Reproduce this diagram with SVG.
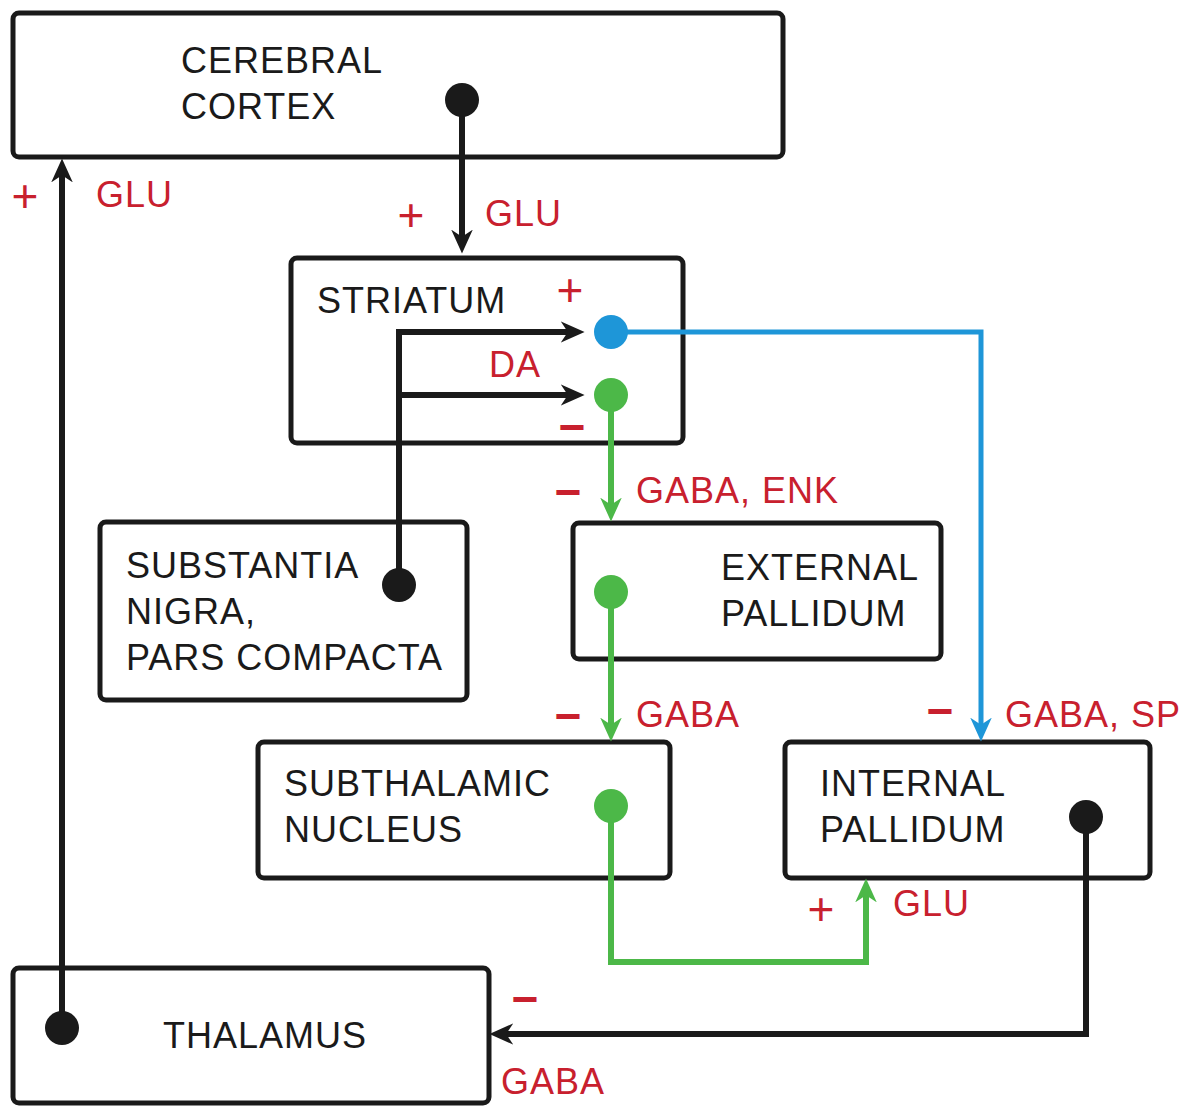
<svg xmlns="http://www.w3.org/2000/svg" width="1181" height="1106" viewBox="0 0 1181 1106">
  <style>
    .box { fill: #ffffff; stroke: #1a1a1a; stroke-width: 5; }
    .name { font-family: "Liberation Sans", Arial, sans-serif; font-size: 36px; letter-spacing: 1px; fill: #1a1a1a; }
    .lbl { font-family: "Liberation Sans", Arial, sans-serif; font-size: 36px; letter-spacing: 1px; fill: #c8202e; }
    .sign { font-family: "Liberation Sans", Arial, sans-serif; font-size: 46px; fill: #c8202e; text-anchor: middle; }
    .minus { font-weight: bold; }
    .k { fill: none; stroke: #1a1a1a; stroke-width: 6; }
    .g { fill: none; stroke: #4cb848; stroke-width: 6; }
    .b { fill: none; stroke: #1e96d8; stroke-width: 5; }
  </style>
  <defs>
    <marker id="ak" viewBox="0 0 20 20" refX="12" refY="10" markerWidth="24" markerHeight="24" markerUnits="userSpaceOnUse" orient="auto">
      <path d="M0,1 L20,10 L0,19 L6,10 z" fill="#1a1a1a"/>
    </marker>
    <marker id="ag" viewBox="0 0 20 20" refX="12" refY="10" markerWidth="24" markerHeight="24" markerUnits="userSpaceOnUse" orient="auto">
      <path d="M0,1 L20,10 L0,19 L6,10 z" fill="#4cb848"/>
    </marker>
    <marker id="ab" viewBox="0 0 20 20" refX="12" refY="10" markerWidth="24" markerHeight="24" markerUnits="userSpaceOnUse" orient="auto">
      <path d="M0,1 L20,10 L0,19 L6,10 z" fill="#1e96d8"/>
    </marker>
  </defs>

  <!-- nodes -->
  <g id="cortex">
    <rect class="box" x="13" y="13" width="770" height="144" rx="6"/>
    <text class="name" x="181" y="73">CEREBRAL</text>
    <text class="name" x="181" y="119">CORTEX</text>
  </g>
  <g id="striatum">
    <rect class="box" x="291" y="258" width="392" height="185" rx="6"/>
    <text class="name" x="317" y="313">STRIATUM</text>
  </g>
  <g id="substantia-nigra">
    <rect class="box" x="100" y="522" width="367" height="178" rx="6"/>
    <text class="name" x="126" y="578">SUBSTANTIA</text>
    <text class="name" x="126" y="624">NIGRA,</text>
    <text class="name" x="126" y="670">PARS COMPACTA</text>
  </g>
  <g id="external-pallidum">
    <rect class="box" x="573" y="523" width="368" height="136" rx="6"/>
    <text class="name" x="721" y="580">EXTERNAL</text>
    <text class="name" x="721" y="626">PALLIDUM</text>
  </g>
  <g id="subthalamic-nucleus">
    <rect class="box" x="258" y="742" width="412" height="136" rx="6"/>
    <text class="name" x="284" y="796">SUBTHALAMIC</text>
    <text class="name" x="284" y="842">NUCLEUS</text>
  </g>
  <g id="internal-pallidum">
    <rect class="box" x="785" y="742" width="365" height="136" rx="6"/>
    <text class="name" x="820" y="796">INTERNAL</text>
    <text class="name" x="820" y="842">PALLIDUM</text>
  </g>
  <g id="thalamus">
    <rect class="box" x="13" y="968" width="476" height="135" rx="6"/>
    <text class="name" x="163" y="1048">THALAMUS</text>
  </g>

  <!-- connectors -->
  <g id="connectors">
    <!-- cortex to striatum -->
    <path class="k" d="M462,100 V244" marker-end="url(#ak)"/>
    <circle cx="462" cy="100" r="17" fill="#1a1a1a"/>
    <!-- thalamus to cortex -->
    <path class="k" d="M62,1028 V168" marker-end="url(#ak)"/>
    <circle cx="62" cy="1028" r="17" fill="#1a1a1a"/>
    <!-- dopamine from substantia nigra -->
    <path class="k" d="M399,585 V332 H575" marker-end="url(#ak)"/>
    <path class="k" d="M399,395 H575" marker-end="url(#ak)"/>
    <circle cx="399" cy="585" r="17" fill="#1a1a1a"/>
    <!-- striatum direct pathway -->
    <path class="b" d="M611,332 H981 V732" marker-end="url(#ab)"/>
    <circle cx="611" cy="332" r="17" fill="#1e96d8"/>
    <!-- striatum indirect pathway -->
    <path class="g" d="M611,395 V512" marker-end="url(#ag)"/>
    <circle cx="611" cy="395" r="17" fill="#4cb848"/>
    <!-- external pallidum to subthalamic nucleus -->
    <path class="g" d="M611,592 V732" marker-end="url(#ag)"/>
    <circle cx="611" cy="592" r="17" fill="#4cb848"/>
    <!-- subthalamic nucleus to internal pallidum -->
    <path class="g" d="M611,806 V962 H866 V888" marker-end="url(#ag)"/>
    <circle cx="611" cy="806" r="17" fill="#4cb848"/>
    <!-- internal pallidum to thalamus -->
    <path class="k" d="M1086,817 V1034 H499" marker-end="url(#ak)"/>
    <circle cx="1086" cy="817" r="17" fill="#1a1a1a"/>
  </g>

  <!-- transmitter labels -->
  <g id="labels">
    <text class="sign" x="25" y="212">+</text>
    <text class="lbl" x="96" y="207">GLU</text>
    <text class="sign" x="411" y="231">+</text>
    <text class="lbl" x="485" y="226">GLU</text>
    <text class="sign" x="570" y="306">+</text>
    <text class="lbl" x="489" y="377">DA</text>
    <text class="sign minus" x="572" y="443">−</text>
    <text class="sign minus" x="568" y="508">−</text>
    <text class="lbl" x="636" y="503">GABA, ENK</text>
    <text class="sign minus" x="568" y="732">−</text>
    <text class="lbl" x="636" y="727">GABA</text>
    <text class="sign minus" x="940" y="727">−</text>
    <text class="lbl" x="1005" y="727">GABA, SP</text>
    <text class="sign" x="821" y="925">+</text>
    <text class="lbl" x="893" y="916">GLU</text>
    <text class="sign minus" x="525" y="1015">−</text>
    <text class="lbl" x="501" y="1094">GABA</text>
  </g>
</svg>
